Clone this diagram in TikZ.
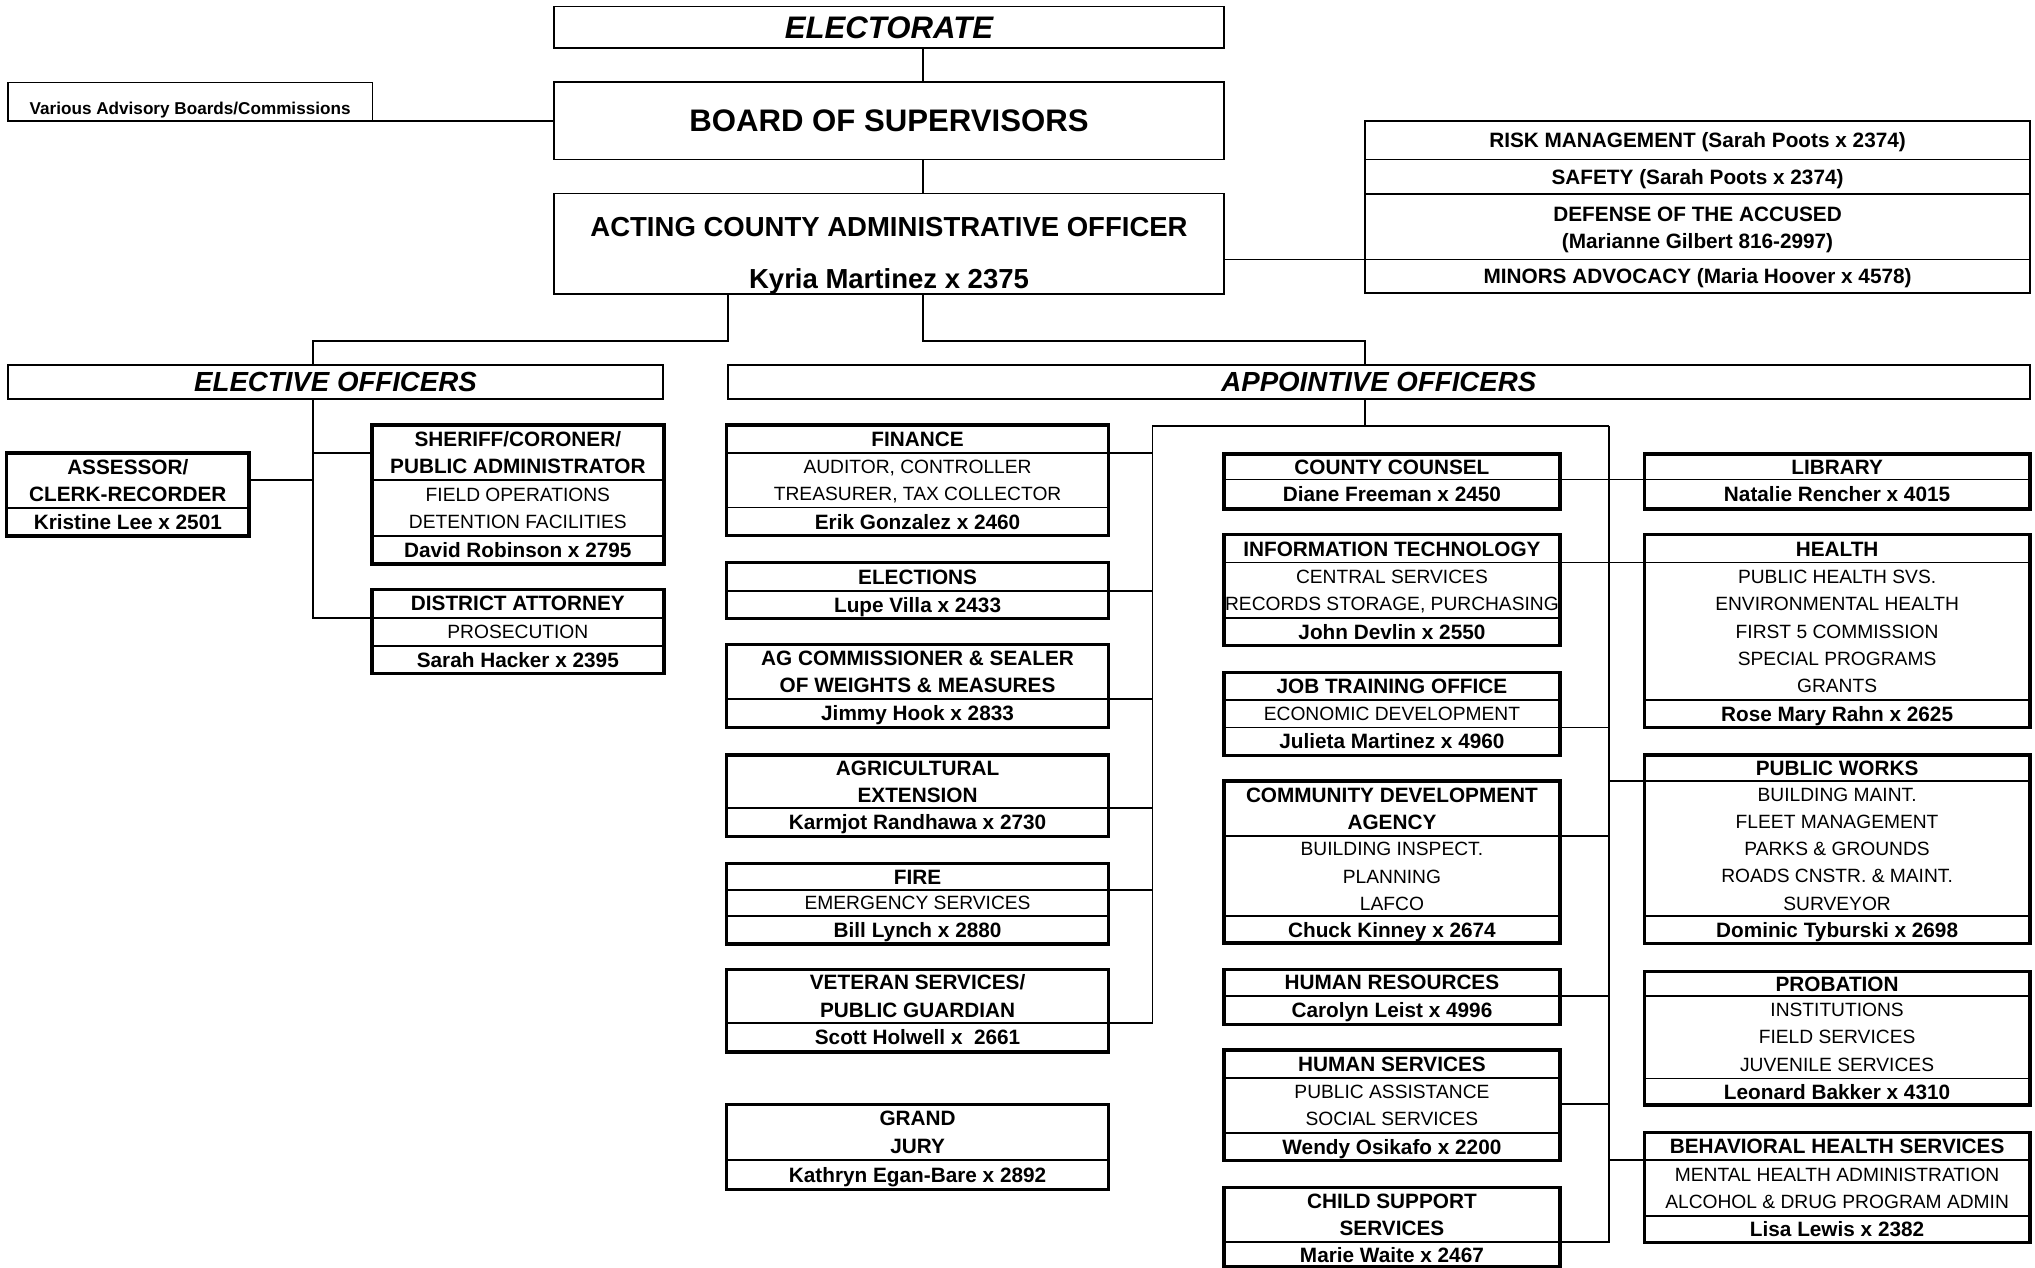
\documentclass[tikz,border=0pt]{standalone}
\usepackage{fontspec}
\setmainfont{Liberation Sans}
\newcommand\dept[7]{%
  \node[dbox, minimum width={(#3)-(#2)}, minimum height={(#7)-(#4)}] (#1) at ({((#2)+(#3))/2},{((#4)+(#7))/2}) {};
  \draw[thinl] (#1.west |- 0,#5) -- (#1.east |- 0,#5);
  \draw[thinl] (#1.west |- 0,#6) -- (#1.east |- 0,#6);
}
\newcommand\rows[7]{%
  \foreach \ltext [count=\i] in {#7} {%
    \pgfmathsetmacro\yy{((#4)+(#5))/2 + (\i-((#6)+1)/2)*21}
    \node[#3] (#1-#2-\i) at (#1.center |- 0,\yy) {\ltext};
  }%
}
\begin{document}
\begin{tikzpicture}[x=1pt,y=-1pt,
  topbox/.style={draw, line width=1.3pt, inner sep=0pt, outer sep=0pt},
  dbox/.style={draw, line width=2.6pt, inner sep=0pt, outer sep=0pt},
  thinl/.style={line width=1.3pt},
  conn/.style={line width=1.3pt},
  tb/.style={font=\fontsize{16}{19}\selectfont\bfseries, anchor=base, yshift=-5.73pt, inner sep=0pt},
  tr/.style={font=\fontsize{14.8}{18}\selectfont, anchor=base, yshift=-5.3pt, inner sep=0pt},
  big/.style={font=\fontsize{24}{28}\selectfont\bfseries, anchor=base, yshift=-8.6pt, inner sep=0pt},
  mid/.style={font=\fontsize{21.2}{25}\selectfont\bfseries, anchor=base, yshift=-7.6pt, inner sep=0pt},
  head/.style={font=\fontsize{21.3}{25}\selectfont\bfseries\itshape, anchor=base, yshift=-7.6pt, inner sep=0pt}
]
\useasboundingbox (0,0) rectangle (1568,977);

% ---------- top boxes ----------
\node[topbox, minimum width=516, minimum height=32] (elect) at (685,21) {};
\node[big, font=\fontsize{24}{28}\selectfont\bfseries\itshape] (elect-t) at (elect.center) {ELECTORATE};
\node[topbox, minimum width=516, minimum height=60] (bos) at (685,93) {};
\node[big] (bos-t) at (bos.center) {BOARD OF SUPERVISORS};
\node[topbox, minimum width=516, minimum height=77.5] (acao) at (685,187.75) {};
\node[mid] (acao-t1) at (acao.center |- 0,174.7) {ACTING COUNTY ADMINISTRATIVE OFFICER};
\node[mid] (acao-t2) at (acao.center |- 0,214.5) {Kyria Martinez x 2375};

\node[topbox, minimum width=281, minimum height=29.5] (adv) at (146.5,78.25) {};
\node[font=\fontsize{13.2}{16}\selectfont\bfseries, anchor=base, inner sep=0pt] (adv-t) at (adv.center |- 0,88.6) {Various Advisory Boards/Commissions};

% risk stack
\node[topbox, minimum width=512, minimum height=30] (rm) at (1308,108) {};
\node[topbox, minimum width=512, minimum height=26.5] (sf) at (1308,136.25) {};
\node[topbox, minimum width=512, minimum height=50.5] (def) at (1308,174.75) {};
\node[topbox, minimum width=512, minimum height=26] (mn) at (1308,213) {};
\node[tb] (rm-t) at (rm.center) {RISK MANAGEMENT (Sarah Poots x 2374)};
\node[tb] (sf-t) at (sf.center) {SAFETY (Sarah Poots x 2374)};
\node[tb] (def-t1) at (def.center |- 0,165) {DEFENSE OF THE ACCUSED};
\node[tb] (def-t2) at (def.center |- 0,185.5) {(Marianne Gilbert 816-2997)};
\node[tb] (mn-t) at (mn.center) {MINORS ADVOCACY (Maria Hoover x 4578)};

% section heads
\node[topbox, minimum width=505, minimum height=26.2] (eo) at (258.5,294.4) {};
\node[head] (eo-t) at (eo.center) {ELECTIVE OFFICERS};
\node[topbox, minimum width=1003.2, minimum height=26.2] (ao) at (1062.4,294.4) {};
\node[head] (ao-t) at (ao.center) {APPOINTIVE OFFICERS};

% top connectors
\draw[conn] (elect.south -| 711,0) -- (bos.north -| 711,0);
\draw[conn] (bos.south -| 711,0) -- (acao.north -| 711,0);
\draw[conn] (adv.south east) -- (bos.west |- adv.south east);
\draw[conn] (acao.east |- def.south west) -- (def.south west);
\coordinate (jE) at (241,262.5);
\coordinate (jP) at (1052,262.5);
\draw[conn] (acao.south -| 561,0) |- (jE) -- (eo.north -| jE);
\draw[conn] (acao.south -| 711,0) |- (jP) -- (ao.north -| jP);

% ---------- elective officers ----------
\dept{asr}{5}{192}{349}{391.5}{391.5}{413}
\rows{asr}{t}{tb}{349}{391.5}{2}{{ASSESSOR/},{CLERK-RECORDER}}
\rows{asr}{n}{tb}{391.5}{413}{1}{{Kristine Lee x 2501}}

\dept{shf}{286.5}{511.5}{327.5}{370}{413}{434.5}
\rows{shf}{t}{tb}{327.5}{370}{2}{{SHERIFF/CORONER/},{PUBLIC ADMINISTRATOR}}
\rows{shf}{m}{tr}{370}{413}{2}{{FIELD OPERATIONS},{DETENTION FACILITIES}}
\rows{shf}{n}{tb}{413}{434.5}{1}{{David Robinson x 2795}}

\dept{da}{286.5}{511.5}{454}{476}{498}{519}
\rows{da}{t}{tb}{454}{476}{1}{{DISTRICT ATTORNEY}}
\rows{da}{m}{tr}{476}{498}{1}{{PROSECUTION}}
\rows{da}{n}{tb}{498}{519}{1}{{Sarah Hacker x 2395}}

\draw[conn] (eo.south -| jE) |- (da.west |- 0,476);
\draw[conn] (jE |- 0,349.3) -- (shf.west |- 0,349.3);
\draw[conn] (jE |- 0,370) -- (asr.east |- 0,370);

% ---------- appointive: left column ----------
\dept{fin}{560}{854}{327.5}{349.3}{391}{412.8}
\rows{fin}{t}{tb}{327.5}{349.3}{1}{{FINANCE}}
\rows{fin}{m}{tr}{349.3}{391}{2}{{AUDITOR, CONTROLLER},{TREASURER, TAX COLLECTOR}}
\rows{fin}{n}{tb}{391}{412.8}{1}{{Erik Gonzalez x 2460}}

\dept{elc}{560}{854}{433.3}{455.4}{455.4}{476.4}
\rows{elc}{t}{tb}{433.3}{455.4}{1}{{ELECTIONS}}
\rows{elc}{n}{tb}{455.4}{476.4}{1}{{Lupe Villa x 2433}}

\dept{ag}{560}{854}{496.5}{538.8}{538.8}{560.4}
\rows{ag}{t}{tb}{496.5}{538.8}{2}{{AG COMMISSIONER \& SEALER},{OF WEIGHTS \& MEASURES}}
\rows{ag}{n}{tb}{538.8}{560.4}{1}{{Jimmy Hook x 2833}}

\dept{agx}{560}{854}{581.7}{622.8}{622.8}{644.7}
\rows{agx}{t}{tb}{581.7}{622.8}{2}{{AGRICULTURAL},{EXTENSION}}
\rows{agx}{n}{tb}{622.8}{644.7}{1}{{Karmjot Randhawa x 2730}}

\dept{fire}{560}{854}{665.2}{685.8}{705.8}{727.4}
\rows{fire}{t}{tb}{665.2}{685.8}{1}{{FIRE}}
\rows{fire}{m}{tr}{685.8}{705.8}{1}{{EMERGENCY SERVICES}}
\rows{fire}{n}{tb}{705.8}{727.4}{1}{{Bill Lynch x 2880}}

\dept{vet}{560}{854}{746.9}{788}{788}{810.6}
\rows{vet}{t}{tb}{746.9}{788}{2}{{VETERAN SERVICES/},{PUBLIC GUARDIAN}}
\rows{vet}{n}{tb}{788}{810.6}{1}{{Scott Holwell x\ \ 2661}}

\dept{gj}{560}{854}{850.9}{893.8}{893.8}{916.4}
\rows{gj}{t}{tb}{850.9}{893.8}{2}{{GRAND},{JURY}}
\rows{gj}{n}{tb}{893.8}{916.4}{1}{{Kathryn Egan-Bare x 2892}}

% ---------- appointive: middle column ----------
\dept{cc}{943}{1202}{349.7}{369.4}{369.4}{392.1}
\rows{cc}{t}{tb}{349.7}{369.4}{1}{{COUNTY COUNSEL}}
\rows{cc}{n}{tb}{369.4}{392.1}{1}{{Diane Freeman x 2450}}

\dept{it}{943}{1202}{411.9}{433.5}{476.2}{497.5}
\rows{it}{t}{tb}{411.9}{433.5}{1}{{INFORMATION TECHNOLOGY}}
\rows{it}{m}{tr}{433.5}{476.2}{2}{{CENTRAL SERVICES},{RECORDS STORAGE, PURCHASING}}
\rows{it}{n}{tb}{476.2}{497.5}{1}{{John Devlin x 2550}}

\dept{jto}{943}{1202}{518.1}{539.4}{560.5}{582.1}
\rows{jto}{t}{tb}{518.1}{539.4}{1}{{JOB TRAINING OFFICE}}
\rows{jto}{m}{tr}{539.4}{560.5}{1}{{ECONOMIC DEVELOPMENT}}
\rows{jto}{n}{tb}{560.5}{582.1}{1}{{Julieta Martinez x 4960}}

\dept{cda}{943}{1202}{601.9}{644.3}{705.9}{726.7}
\rows{cda}{t}{tb}{601.9}{644.3}{2}{{COMMUNITY DEVELOPMENT},{AGENCY}}
\rows{cda}{m}{tr}{644.3}{705.9}{3}{{BUILDING INSPECT.},{PLANNING},{LAFCO}}
\rows{cda}{n}{tb}{705.9}{726.7}{1}{{Chuck Kinney x 2674}}

\dept{hr}{943}{1202}{746.9}{767.2}{767.2}{789.3}
\rows{hr}{t}{tb}{746.9}{767.2}{1}{{HUMAN RESOURCES}}
\rows{hr}{n}{tb}{767.2}{789.3}{1}{{Carolyn Leist x 4996}}

\dept{hs}{943}{1202}{809.1}{830.4}{872.8}{894.4}
\rows{hs}{t}{tb}{809.1}{830.4}{1}{{HUMAN SERVICES}}
\rows{hs}{m}{tr}{830.4}{872.8}{2}{{PUBLIC ASSISTANCE},{SOCIAL SERVICES}}
\rows{hs}{n}{tb}{872.8}{894.4}{1}{{Wendy Osikafo x 2200}}

\dept{cs}{943}{1202}{914.9}{956.8}{956.8}{975.8}
\rows{cs}{t}{tb}{914.9}{956.8}{2}{{CHILD SUPPORT},{SERVICES}}
\rows{cs}{n}{tb}{956.8}{976.8}{1}{{Marie Waite x 2467}}

% ---------- appointive: right column ----------
\dept{lib}{1267}{1564}{349.7}{369.4}{369.4}{392.1}
\rows{lib}{t}{tb}{349.7}{369.4}{1}{{LIBRARY}}
\rows{lib}{n}{tb}{369.4}{392.1}{1}{{Natalie Rencher x 4015}}

\dept{hea}{1267}{1564}{411.9}{433.5}{539.4}{560.5}
\rows{hea}{t}{tb}{411.9}{433.5}{1}{{HEALTH}}
\rows{hea}{m}{tr}{433.5}{539.4}{5}{{PUBLIC HEALTH SVS.},{ENVIRONMENTAL HEALTH},{FIRST 5 COMMISSION},{SPECIAL PROGRAMS},{GRANTS}}
\rows{hea}{n}{tb}{539.4}{560.5}{1}{{Rose Mary Rahn x 2625}}

\dept{pw}{1267}{1564}{581.6}{602}{706}{727.2}
\rows{pw}{t}{tb}{581.6}{602}{1}{{PUBLIC WORKS}}
\rows{pw}{m}{tr}{602}{706}{5}{{BUILDING MAINT.},{FLEET MANAGEMENT},{PARKS \& GROUNDS},{ROADS CNSTR. \& MAINT.},{SURVEYOR}}
\rows{pw}{n}{tb}{706}{727.2}{1}{{Dominic Tyburski x 2698}}

\dept{prob}{1267}{1564}{748.7}{767.2}{830.9}{851.4}
\rows{prob}{t}{tb}{748.7}{767.2}{1}{{PROBATION}}
\rows{prob}{m}{tr}{767.2}{830.9}{3}{{INSTITUTIONS},{FIELD SERVICES},{JUVENILE SERVICES}}
\rows{prob}{n}{tb}{830.9}{851.4}{1}{{Leonard Bakker x 4310}}

\dept{bhs}{1267}{1564}{872.5}{893.8}{936.7}{957.5}
\rows{bhs}{t}{tb}{872.5}{893.8}{1}{{BEHAVIORAL HEALTH SERVICES}}
\rows{bhs}{m}{tr}{893.8}{936.7}{2}{{MENTAL HEALTH ADMINISTRATION},{ALCOHOL \& DRUG PROGRAM ADMIN}}
\rows{bhs}{n}{tb}{936.7}{957.5}{1}{{Lisa Lewis x 2382}}

% ---------- appointive connectors ----------
\coordinate (jA) at (888,328);
\coordinate (jB) at (1240,328);
\draw[conn] (ao.south -| jP) -- (jA -| jP);
\draw[conn] (jA) -- (jB);
\draw[conn] (jA) |- (vet.east |- 0,788);
\draw[conn] (jB) |- (cs.east |- 0,956.8);
\foreach \b/\y in {fin/349.3, elc/455.4, ag/538.8, agx/622.8, fire/685.8}
  \draw[conn] (\b.east |- 0,\y) -- (jA |- 0,\y);
\draw[conn] (cc.east |- 0,369.4) -- (lib.west |- 0,369.4);
\draw[conn] (it.east |- 0,433.5) -- (hea.west |- 0,433.5);
\foreach \b/\y in {jto/560.5, cda/644.3, hr/767.2, hs/850.9}
  \draw[conn] (\b.east |- 0,\y) -- (jB |- 0,\y);
\foreach \b/\y in {pw/602, bhs/893.8}
  \draw[conn] (jB |- 0,\y) -- (\b.west |- 0,\y);
\end{tikzpicture}
\end{document}
